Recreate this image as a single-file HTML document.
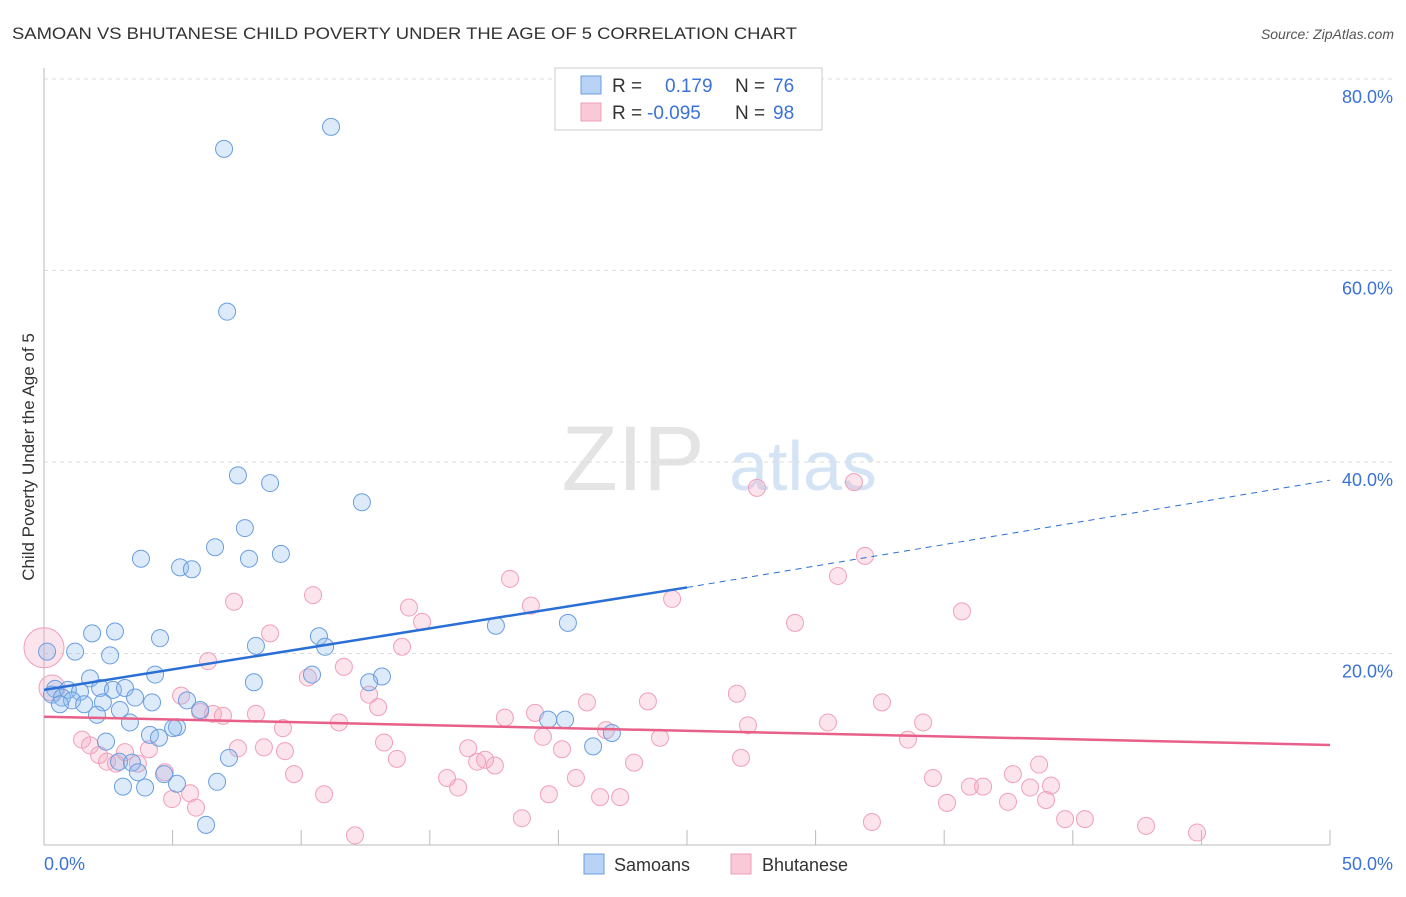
<!DOCTYPE html>
<html><head><meta charset="utf-8"><style>
body{margin:0;background:#fff;font-family:"Liberation Sans",sans-serif;}
svg text{font-family:"Liberation Sans",sans-serif;}
</style></head><body>
<svg id="chart" width="1406" height="892" viewBox="0 0 1406 892">
<text x="12" y="39" font-size="17" fill="#333" textLength="785" lengthAdjust="spacingAndGlyphs">SAMOAN VS BHUTANESE CHILD POVERTY UNDER THE AGE OF 5 CORRELATION CHART</text>
<text x="1394" y="39" font-size="14" fill="#555" font-style="italic" text-anchor="end">Source: ZipAtlas.com</text>
<g><text x="633" y="490" font-size="92" fill="#e4e4e4" font-family="Liberation Serif" text-anchor="middle">ZIP</text><text x="803" y="490" font-size="70" fill="#d5e4f5" text-anchor="middle">atlas</text></g>
<g id="grid"></g><g id="axes"></g><g id="pts"></g><g id="lines"></g>
<text transform="translate(34,457) rotate(-90)" font-size="17" fill="#333" text-anchor="middle">Child Poverty Under the Age of 5</text>
<g>
<rect x="555" y="68" width="267" height="62" fill="#fff" stroke="#ccc"/>
<rect x="581" y="76" width="20" height="18" fill="#b8d3f5" stroke="#6a9ee0"/>
<rect x="581" y="103" width="20" height="18" fill="#f9c9d8" stroke="#f0a0b8"/>
<text x="612" y="92" font-size="19" fill="#333">R = </text><text x="665" y="92" font-size="19" fill="#3a72d8">0.179</text>
<text x="735" y="92" font-size="19" fill="#333">N = </text><text x="773" y="92" font-size="19" fill="#3a72d8">76</text>
<text x="612" y="119" font-size="19" fill="#333">R = </text><text x="647" y="119" font-size="19" fill="#3a72d8">-0.095</text>
<text x="735" y="119" font-size="19" fill="#333">N = </text><text x="773" y="119" font-size="19" fill="#3a72d8">98</text>
</g>
<g>
<rect x="584" y="854" width="20" height="20" fill="#b8d3f5" stroke="#6a9ee0"/>
<text x="614" y="871" font-size="18" fill="#333">Samoans</text>
<rect x="731" y="854" width="20" height="20" fill="#f9c9d8" stroke="#f0a0b8"/>
<text x="762" y="871" font-size="18" fill="#333">Bhutanese</text>
</g>
</svg>
<script>
const yTicks=[20,40,60,80];
const yTickLabels=["20.0%","40.0%","60.0%","80.0%"];
const xTicks=[0,5,10,15,20,25,30,35,40,45,50];
const xEndLabels=["0.0%","50.0%"];
const samoanX=[7.0,11.16,7.12,7.54,8.79,12.36,7.81,6.65,3.77,7.97,9.21,5.29,5.75,1.87,2.76,4.51,10.69,10.93,8.24,0.12,1.21,2.57,4.32,1.79,10.42,13.14,12.64,8.16,20.37,17.57,0.43,0.93,1.40,2.18,2.68,3.15,0.31,0.70,1.09,0.62,3.54,4.20,5.56,2.29,1.56,2.95,6.07,2.06,3.34,5.17,5.02,4.12,4.47,2.41,19.6,20.26,22.08,21.35,7.19,2.92,3.42,3.65,4.67,3.07,3.93,5.17,6.73,6.30];
const samoanY=[72.7,75.0,55.7,38.6,37.8,35.8,33.1,31.1,29.9,29.9,30.4,29.0,28.8,22.1,22.3,21.6,21.8,20.7,20.8,20.2,20.2,19.8,17.8,17.4,17.8,17.6,17.0,17.0,23.2,22.9,16.3,16.2,16.0,16.4,16.2,16.4,15.7,15.4,15.1,14.7,15.4,14.9,15.1,14.9,14.7,14.1,14.1,13.6,12.8,12.3,12.2,11.5,11.2,10.8,13.1,13.1,11.7,10.3,9.1,8.7,8.6,7.6,7.4,6.1,6.0,6.4,6.6,2.1];
const bhutX=[27.72,31.49,31.92,30.87,18.12,18.93,14.19,10.46,7.39,24.42,35.69,14.70,8.79,29.20,13.92,0,0.31,6.38,11.66,10.26,12.64,12.99,26.94,21.11,23.48,32.58,5.33,6.07,6.57,6.96,8.24,17.92,19.09,34.18,27.37,30.48,11.47,9.29,21.85,19.40,1.48,1.79,7.54,8.55,9.37,13.22,16.49,23.95,33.59,20.14,2.14,3.15,4.08,2.45,2.80,3.65,13.72,16.84,17.53,17.15,27.10,22.94,4.70,9.72,15.67,20.68,34.56,38.69,37.67,39.15,36.0,36.51,38.34,38.96,37.48,35.11,16.10,19.63,10.89,5.68,4.98,5.91,21.62,22.40,18.58,39.70,40.47,32.19,42.85,44.83,12.09];
const bhutY=[37.3,37.9,30.2,28.1,27.8,25.0,24.8,26.1,25.4,25.7,24.4,23.3,22.1,23.2,20.7,20.6,16.4,19.2,18.6,17.5,15.7,14.4,15.8,14.9,15.0,14.9,15.6,13.9,13.7,13.5,13.7,13.3,13.8,12.8,12.5,12.8,12.8,12.2,12.0,11.3,11.0,10.4,10.1,10.2,9.8,10.7,10.1,11.2,11.0,10.0,9.4,9.7,10.0,8.7,8.5,8.5,9.0,8.7,8.3,8.9,9.1,8.6,7.6,7.4,7.0,7.0,7.0,8.4,7.4,6.2,6.1,6.1,6.0,4.7,4.5,4.4,6.0,5.3,5.3,5.4,4.8,3.9,5.0,5.0,2.8,2.7,2.7,2.4,2.0,1.3,1.0];
const samoanTrend=[16.2,26.9,38.1];
const bhutTrend=[13.4,10.45];
const NS="http://www.w3.org/2000/svg";
const X=v=>44+v*25.72, Y=v=>845-v*9.575;
function mk(tag,attrs,parent){const e=document.createElementNS(NS,tag);for(const k in attrs)e.setAttribute(k,attrs[k]);parent.appendChild(e);return e;}
const grid=document.getElementById('grid'),axes=document.getElementById('axes'),pts=document.getElementById('pts'),lines=document.getElementById('lines');
yTicks.forEach((t,i)=>{
 const l=mk('line',{x1:44,x2:1394,y1:Y(t),y2:Y(t),stroke:'#ddd','stroke-dasharray':'4,4'},grid);
 
 
 const tx=mk('text',{x:1393,y:Y(t)+24,'font-size':18,fill:'#3a72d8','text-anchor':'end'},grid);
 tx.textContent=yTickLabels[i];
 
 
});
const ya=mk('line',{x1:44,x2:44,y1:68,y2:845,stroke:'#bbb'},axes);


const xa=mk('line',{x1:44,x2:1330,y1:845,y2:845,stroke:'#bbb'},axes);


xTicks.forEach(t=>{
 const l=mk('line',{x1:X(t),x2:X(t),y1:830,y2:845,stroke:'#bbb'},axes);
 
 
});
const xl0=mk('text',{x:44,y:870,'font-size':18,fill:'#3a72d8'},axes);xl0.textContent=xEndLabels[0];


const xl1=mk('text',{x:1393,y:870,'font-size':18,fill:'#3a72d8','text-anchor':'end'},axes);xl1.textContent=xEndLabels[1];


bhutX.forEach((x,i)=>{
 const big=i===15||i===16;
 const c=mk('circle',{cx:X(x),cy:Y(bhutY[i]),r:big?(i===15?20:13):8.5,fill:'rgba(244,165,192,0.3)',stroke:'#f0a0b8','stroke-width':1},pts);
 
 
});
samoanX.forEach((x,i)=>{
 const c=mk('circle',{cx:X(x),cy:Y(samoanY[i]),r:8.5,fill:'rgba(140,185,240,0.3)',stroke:'#6a9ee0','stroke-width':1},pts);
 
 
});
const s1=mk('line',{x1:X(0),y1:Y(samoanTrend[0]),x2:X(25),y2:Y(samoanTrend[1]),stroke:'#2a6fd6','stroke-width':2.5},lines);


const s2=mk('line',{x1:X(25),y1:Y(samoanTrend[1]),x2:X(50),y2:Y(samoanTrend[2]),stroke:'#2a6fd6','stroke-width':1,'stroke-dasharray':'6,5'},lines);


const b1=mk('line',{x1:X(0),y1:Y(bhutTrend[0]),x2:X(50),y2:Y(bhutTrend[1]),stroke:'#e8608a','stroke-width':2.5},lines);


</script>
</body></html>
